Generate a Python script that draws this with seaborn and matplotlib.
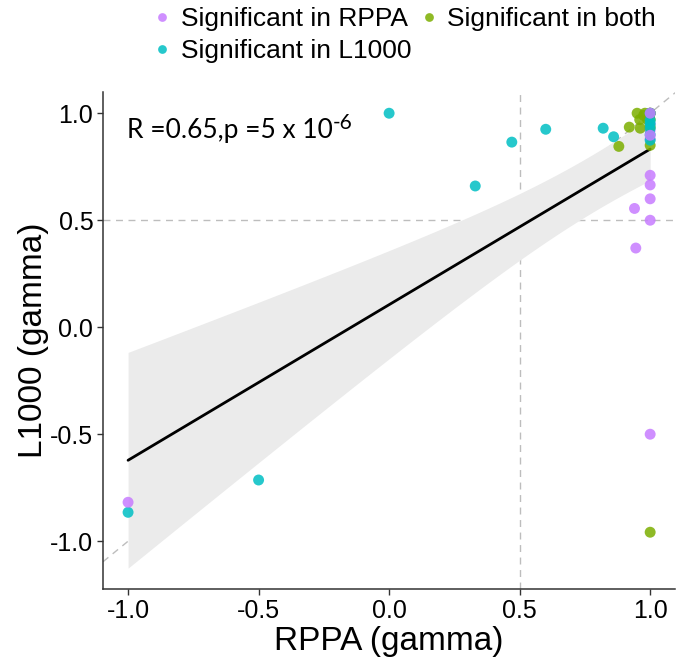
import numpy as np
import pandas as pd
import matplotlib
matplotlib.use("Agg")
import matplotlib.pyplot as plt
import seaborn as sns

# ---- data (several points overlap in the top-right cluster) ----
rppa_x = [1.0, 1.0, 1.0, 1.0, 0.94, 1.0, 0.945, 1.0, -1.0, 1.0]
rppa_y = [1.0, 0.71, 0.665, 0.60, 0.555, 0.5, 0.37, -0.5, -0.818, 0.897]
rppa_hidden_x = [1.0, 1.0, 1.0, 1.0]
rppa_hidden_y = [1.0, 0.95, 0.92, 0.88]

l1000_x = [0.0, 0.33, 0.47, 0.60, 0.82, 0.86, -0.5, -1.0, 1.0, 1.0, 1.0, 1.0, 1.0, 1.0]
l1000_y = [1.0, 0.66, 0.865, 0.925, 0.93, 0.89, -0.714, -0.865, 0.967, 0.874, 0.93, 0.95, 1.0, 0.9]

both_x = [0.95, 0.975, 0.92, 0.962, 1.0, 1.0, 0.88, 1.0, 0.99, 1.0, 1.0, 0.98, 1.0, 0.96]
both_y = [1.0, 0.99, 0.935, 0.93, 0.935, 0.85, 0.845, -0.958, 0.97, 1.0, 1.0, 1.0, 0.97, 0.97]

categories = ["Significant in RPPA", "Significant in L1000", "Significant in both"]
palette = {"Significant in RPPA": "#C77CFF",
           "Significant in L1000": "#00BFC4",
           "Significant in both": "#7CAE00"}
x_ticks = [-1.0, -0.5, 0.0, 0.5, 1.0]
y_ticks = [-1.0, -0.5, 0.0, 0.5, 1.0]
annot_text = "R =0.65,p =5 x 10"
annot_sup = "-6"

df = pd.concat([
    pd.DataFrame({"x": rppa_hidden_x, "y": rppa_hidden_y, "grp": categories[0]}),
    pd.DataFrame({"x": both_x, "y": both_y, "grp": categories[2]}),
    pd.DataFrame({"x": l1000_x, "y": l1000_y, "grp": categories[1]}),
    pd.DataFrame({"x": rppa_x, "y": rppa_y, "grp": categories[0]}),
], ignore_index=True)

sns.set_theme(style="white")
plt.rcParams["font.family"] = ["Liberation Sans", "DejaVu Sans"]
plt.rcParams["text.color"] = "black"
plt.rcParams["axes.labelcolor"] = "black"

fig = plt.figure(figsize=(6.89, 6.59), dpi=100)
ax = fig.add_axes([0.1495, 0.106, 0.8305, 0.754])

# reference lines
ax.axline((0, 0), slope=1, color="#BDBDBD", lw=1.0, ls=(0, (5, 4)), zorder=1)
ax.axhline(0.5, color="#BDBDBD", lw=1.0, ls=(0, (5, 4)), zorder=1)
ax.axvline(0.5, color="#BDBDBD", lw=1.0, ls=(0, (5, 4)), zorder=1)

# analytic 95% CI band of the linear fit (like geom_smooth(method='lm'))
xv = df["x"].to_numpy()
yv = df["y"].to_numpy()
n = len(xv)
b, a = np.polyfit(xv, yv, 1)
resid = yv - (a + b * xv)
s = np.sqrt(np.sum(resid ** 2) / (n - 2))
grid = np.linspace(xv.min(), xv.max(), 100)
se = s * np.sqrt(1 / n + (grid - xv.mean()) ** 2 / np.sum((xv - xv.mean()) ** 2))
tval = 2.02
ax.fill_between(grid, a + b * grid - tval * se, a + b * grid + tval * se,
                color="#EBEBEB", lw=0, zorder=2)

sns.regplot(data=df, x="x", y="y", scatter=False, ci=None, ax=ax,
            line_kws={"color": "black", "lw": 2.0, "zorder": 3})

sns.scatterplot(data=df, x="x", y="y", hue="grp", hue_order=categories,
                palette=palette, s=62, alpha=0.85, linewidth=0, ax=ax,
                zorder=4, legend=True)

ax.set_xlim(-1.096, 1.096)
ax.set_ylim(-1.224, 1.098)
ax.set_xticks(x_ticks)
ax.set_yticks(y_ticks)
ax.set_xticklabels([f"{v:.1f}" for v in x_ticks])
ax.set_yticklabels([f"{v:.1f}" for v in y_ticks])
ax.tick_params(axis="both", labelsize=18, length=4, width=1, colors="#333333",
               labelcolor="black", bottom=True, left=True, pad=3)
for side in ["top", "right"]:
    ax.spines[side].set_visible(False)
for side in ["left", "bottom"]:
    ax.spines[side].set_color("#333333")
    ax.spines[side].set_linewidth(1.1)
ax.set_xlabel("RPPA (gamma)", fontsize=24, labelpad=2, color="black")
ax.set_ylabel("L1000 (gamma)", fontsize=24, labelpad=1, color="black")

t = ax.text(-1.004, 0.883, annot_text, fontsize=19, family=["Lato", "DejaVu Sans"],
            ha="left", va="baseline", zorder=5, color="black")
fig.canvas.draw()
bb = t.get_window_extent()
inv = ax.transData.inverted()
xe, _ = inv.transform((bb.x1, bb.y0))
ax.text(xe, 0.883 + 0.045, annot_sup, fontsize=15, family=["Lato", "DejaVu Sans"],
        ha="left", va="baseline", zorder=5, color="black")

handles, labels = ax.get_legend_handles_labels()
ax.get_legend().remove()
leg = fig.legend(handles, labels, ncol=2, loc="upper left", bbox_to_anchor=(0.209, 1.005),
                 frameon=False, fontsize=19, handlelength=0.6, handletextpad=0.4,
                 columnspacing=0.35, labelspacing=0.3, markerscale=0.8, borderaxespad=0)
for txt in leg.get_texts():
    txt.set_color("black")

fig.savefig("out.png", dpi=100)
